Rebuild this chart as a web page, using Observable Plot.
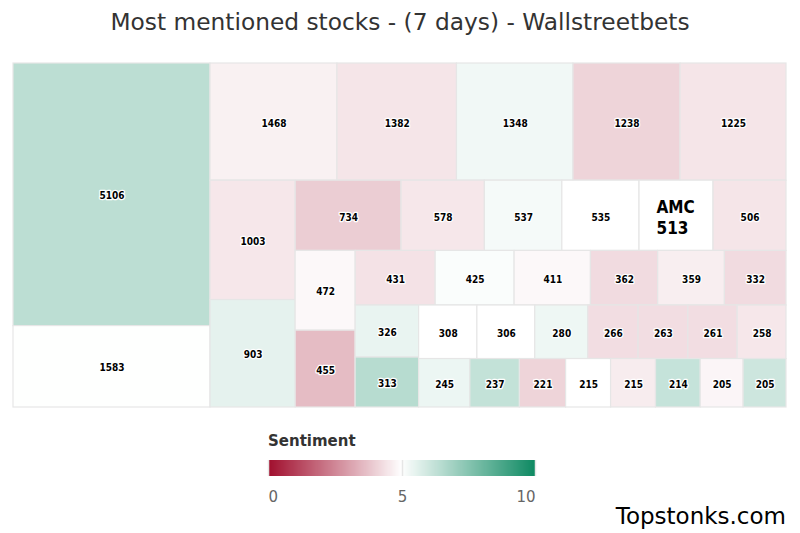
<!DOCTYPE html>
<html>
<head>
<meta charset="utf-8">
<script src="https://cdn.jsdelivr.net/npm/d3@7"></script>
<script src="https://cdn.jsdelivr.net/npm/@observablehq/plot@0.6"></script>
<style>
  html, body { margin: 0; padding: 0; background: #fff; }
  body { width: 800px; height: 533px; position: relative; overflow: hidden; font-family: "DejaVu Sans", sans-serif; }
  #title { position: absolute; left: 0; top: 8px; width: 800px; text-align: center; font-size: 23.3px; color: #333; white-space: nowrap; }
  #chart { position: absolute; left: 0; top: 56px; }
  #legendLabel { position: absolute; left: 268px; top: 432px; font-size: 15px; font-weight: bold; color: #333; }
  #legend { position: absolute; left: 253px; top: 433px; }
  #brand { position: absolute; right: 14px; top: 503px; font-size: 23px; color: #000; }
</style>
</head>
<body>
<div id="title">Most mentioned stocks - (7 days) - Wallstreetbets</div>
<div id="chart"></div>
<div id="legendLabel">Sentiment</div>
<div id="legend"></div>
<div id="brand">Topstonks.com</div>
<script>
// ---- data (in the order given to the treemap) ----
const values = [5106, 1583, 1468, 1382, 1348, 1238, 1225, 1003, 903, 734, 578, 537, 535, 513, 506,
  472, 455, 431, 425, 411, 362, 359, 332, 326, 313, 308, 306, 280, 266, 263, 261, 258,
  245, 237, 221, 215, 215, 214, 205, 205];
const sentiment = [6.4, 5.02, 4.7, 4.45, 5.3, 4.1, 4.45, 4.5, 5.55, 3.95, 4.5, 5.2, 5.0, 5.0, 4.45,
  4.85, 3.6, 4.4, 5.1, 4.85, 4.25, 4.65, 4.25, 5.45, 6.5, 5.0, 5.0, 5.35, 4.3, 4.3, 4.3, 4.5,
  5.4, 6.25, 4.1, 5.0, 4.6, 6.2, 4.8, 6.05];
const highlightName = "AMC";
const highlightValue = 513;
const legendTicks = [0, 5, 10];
const sentimentDomain = [0, 5, 10];
const sentimentColors = ["#a10f2e", "#ffffff", "#0f8a63"];

// ---- layout area (plot area size in px) ----
const W = 773, H = 344;

// Squarified tiling with alternating direction (Highcharts-style)
function squarified(vals, width, height) {
  const total = d3.sum(vals);
  const parent = {x: 0, y: 0, width, height};
  const plot = {x: 0, y: 0, parent};
  const aspect = (w, h) => Math.max(w / h, h / w);
  const g = {
    height, width, direction: 0, total: 0, nW: 0, lW: 0, nH: 0, lH: 0, elArr: [],
    lP: {total: 0, lH: 0, nH: 0, lW: 0, nW: 0, nR: 0, lR: 0}
  };
  function addElement(el) {
    g.lP.total = g.elArr[g.elArr.length - 1];
    g.total += el;
    if (g.direction === 0) {
      g.lW = g.nW;
      g.lP.lH = g.lP.total / g.lW;
      g.lP.lR = aspect(g.lW, g.lP.lH);
      g.nW = g.total / g.height;
      g.lP.nH = g.lP.total / g.nW;
      g.lP.nR = aspect(g.nW, g.lP.nH);
    } else {
      g.lH = g.nH;
      g.lP.lW = g.lP.total / g.lH;
      g.lP.lR = aspect(g.lP.lW, g.lH);
      g.nH = g.total / g.width;
      g.lP.nW = g.lP.total / g.nH;
      g.lP.nR = aspect(g.lP.nW, g.nH);
    }
    g.elArr.push(el);
  }
  const out = [];
  function calc(last) {
    const len = g.elArr.length - 1;
    let gW = g.lW, gH = g.lH, keep;
    if (last) { gW = g.nW; gH = g.nH; } else { keep = g.elArr[len]; }
    g.elArr.forEach((p, i) => {
      if (last || i < len) {
        let pW, pH;
        if (g.direction === 0) { pW = gW; pH = p / pW; } else { pH = gH; pW = p / pH; }
        out.push({x: plot.x, y: plot.y, w: pW, h: pH});
        if (g.direction === 0) plot.y += pH; else plot.x += pW;
      }
    });
    g.nW = 0; g.lW = 0; g.elArr = []; g.total = 0;
    if (g.direction === 0) g.width -= gW; else g.height -= gH;
    plot.y = parent.y + (parent.height - g.height);
    plot.x = parent.x + (parent.width - g.width);
    g.direction = 1 - g.direction;
    if (!last) addElement(keep);
  }
  vals.forEach((v, i) => {
    addElement(width * height * v / total);
    if (g.lP.nR > g.lP.lR) calc(false);
    if (i === vals.length - 1) calc(true);
  });
  return out;
}

const rects = squarified(values, W, H);
const cells = values.map((v, i) => ({
  value: v,
  sentiment: sentiment[i],
  x0: rects[i].x, x1: rects[i].x + rects[i].w,
  y0: rects[i].y, y1: rects[i].y + rects[i].h,
  name: v === highlightValue ? highlightName : ""
}));
const plain = cells.filter(d => !d.name);
const named = cells.filter(d => d.name);

const colorOpts = {type: "linear", domain: sentimentDomain, range: sentimentColors, interpolate: "rgb"};

const chart = Plot.plot({
  width: 800,
  height: 360,
  marginLeft: 13, marginRight: 14, marginTop: 7, marginBottom: 9,
  x: {domain: [0, W], axis: null},
  y: {domain: [0, H], reverse: true, axis: null},
  color: colorOpts,
  marks: [
    Plot.rect(cells, {x1: "x0", x2: "x1", y1: "y0", y2: "y1", fill: "sentiment", stroke: "#e6e6e6", strokeWidth: 1.2}),
    Plot.text(plain, {
      x: d => (d.x0 + d.x1) / 2, y: d => (d.y0 + d.y1) / 2 + 1.5,
      text: d => String(d.value),
      fontFamily: "DejaVu Sans Condensed", fontWeight: "bold", fontSize: 10,
      fill: "#000", stroke: "#fff", strokeWidth: 2.5, paintOrder: "stroke"
    }),
    Plot.text(named, {
      x: d => (d.x0 + d.x1) / 2, y: d => (d.y0 + d.y1) / 2 + 1,
      text: d => d.name + "\n" + d.value,
      textAnchor: "start", dx: -20, lineHeight: 1.25,
      fontFamily: "DejaVu Sans Condensed", fontWeight: "bold", fontSize: 17,
      fill: "#000"
    })
  ]
});
chart.style.fontFamily = "DejaVu Sans";
document.getElementById("chart").appendChild(chart);

const leg = Plot.legend({
  color: colorOpts,
  legend: "ramp",
  label: null,
  width: 297, height: 75,
  marginLeft: 15, marginRight: 15, marginTop: 27, marginBottom: 32,
  ticks: legendTicks, tickSize: 0,
  style: {fontFamily: "DejaVu Sans", fontSize: "15px", color: "#666", background: "transparent"}
});
const tickTexts = d3.select(leg).selectAll(".tick text").attr("y", 15).attr("fill", "#666");
const nTicks = tickTexts.size();
tickTexts.attr("text-anchor", (d, i) => i === 0 ? "start" : i === nTicks - 1 ? "end" : "middle");
d3.select(leg).selectAll(".tick line").attr("stroke", "#e6e6e6").attr("stroke-width", 1.5);
d3.select(leg).selectAll(".domain").remove();
document.getElementById("legend").appendChild(leg);
</script>
</body>
</html>
